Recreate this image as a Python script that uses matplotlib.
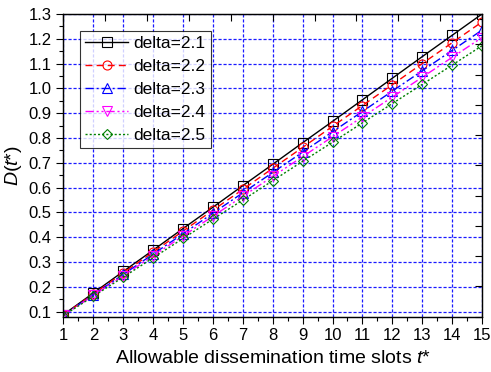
import numpy as np
import matplotlib
matplotlib.use("Agg")
import matplotlib.pyplot as plt

plt.rcParams['font.family'] = ['Liberation Sans', 'DejaVu Sans']
plt.rcParams['mathtext.fontset'] = 'custom'
plt.rcParams['mathtext.rm'] = 'Liberation Sans'
plt.rcParams['mathtext.it'] = 'Liberation Sans:italic'

# data
t_slots = list(range(1, 16))
d_21 = [0.088, 0.175, 0.262, 0.348, 0.435, 0.521, 0.608, 0.694, 0.781, 0.867, 0.954, 1.041, 1.128, 1.214, 1.300]
d_22 = [0.087, 0.171, 0.256, 0.340, 0.425, 0.509, 0.593, 0.678, 0.762, 0.847, 0.931, 1.015, 1.100, 1.184, 1.268]
d_23 = [0.086, 0.168, 0.250, 0.332, 0.414, 0.497, 0.579, 0.661, 0.743, 0.825, 0.907, 0.989, 1.071, 1.153, 1.235]
d_24 = [0.085, 0.165, 0.245, 0.325, 0.405, 0.485, 0.565, 0.645, 0.725, 0.805, 0.885, 0.965, 1.045, 1.125, 1.205]
d_25 = [0.084, 0.162, 0.239, 0.317, 0.395, 0.473, 0.550, 0.628, 0.706, 0.783, 0.861, 0.939, 1.016, 1.094, 1.172]
labels = ['delta=2.1', 'delta=2.2', 'delta=2.3', 'delta=2.4', 'delta=2.5']

series = [d_21, d_22, d_23, d_24, d_25]
colors = ['black', '#ff0000', '#0000ff', '#ff00ff', '#008000']
markers = ['s', 'o', '^', 'v', 'D']
styles = ['-', (0, (5, 3)), (0, (6, 2, 1.5, 2)), (0, (6, 2, 1.5, 2, 1.5, 2)), (0, (1.5, 1.5))]
msizes = [6.5, 6.5, 7, 7, 5.5]

fig = plt.figure(figsize=(4.91, 3.72), dpi=100)
ax = fig.add_axes([0.1293, 0.149, 0.8524, 0.8134])

for y, c, m, ls, ms, lab in zip(series, colors, markers, styles, msizes, labels):
    ax.plot(t_slots, y, color=c, linestyle=ls, linewidth=1.0, marker=m,
            markersize=ms, markerfacecolor='none', markeredgecolor=c,
            markeredgewidth=0.8, label=lab)

ax.set_xlim(1, 15)
ax.set_ylim(0.08, 1.3)
ax.set_xticks(range(1, 16))
ax.set_xticks(np.arange(1.5, 15, 1), minor=True)
ax.set_yticks(np.arange(0.1, 1.31, 0.1))
ax.set_yticks(np.arange(0.15, 1.3, 0.1), minor=True)
ax.yaxis.set_major_formatter(matplotlib.ticker.FormatStrFormatter('%.1f'))
ax.tick_params(which='major', direction='out', length=5, width=0.8, labelsize=12)
ax.tick_params(which='minor', direction='out', length=3, width=0.8)
ax.grid(True, which='major', color='#1a1aff', linestyle=(0, (2.5, 1.5)), linewidth=0.9)
for s in ax.spines.values():
    s.set_linewidth(0.9)

ax.set_xlabel(r'Allowable dissemination time slots $t$*', fontsize=14, labelpad=5)
ax.set_ylabel(r'$D$($t$*)', fontsize=14, labelpad=3)

# mirrored top/right axes with their own tick spacing
axt = ax.twiny()
axt.set_xlim(0, 10)
axt.set_xticks(range(0, 11))
axt.tick_params(axis='x', direction='in', length=5, width=0.8, labeltop=False)
axr = ax.twinx()
axr.set_ylim(0, 10)
axr.set_yticks(range(0, 11))
axr.tick_params(axis='y', direction='in', length=5, width=0.8, labelright=False)

leg = ax.legend(loc='upper left', bbox_to_anchor=(0.039, 0.944), borderaxespad=0,
                fontsize=12.5, frameon=True, fancybox=False, edgecolor='black',
                handlelength=2.5, labelspacing=0.45, borderpad=0.3, handletextpad=0.3)
leg.get_frame().set_linewidth(0.8)

fig.savefig('out.png', dpi=100)
